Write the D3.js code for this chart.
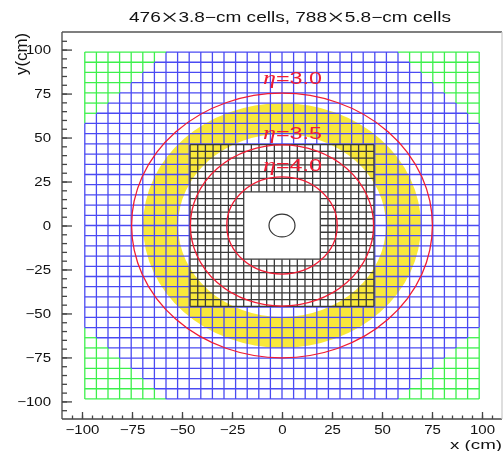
<!DOCTYPE html>
<html>
<head>
<meta charset="utf-8">
<script src="https://cdn.jsdelivr.net/npm/d3@7"></script>
<style>
html, body { margin: 0; padding: 0; background: #fff; }
svg { display: block; filter: blur(0.45px); }
text { font-family: "Liberation Sans", Arial, sans-serif; fill: #111; }
</style>
</head>
<body>
<svg></svg>
<script>
// Fixed inputs
const svgWidth = 503;
const svgHeight = 451;

// Detector layout, all in cm
const etaValues = ["3.0", "3.5", "4.0"];
const etaRadii = [75.2, 45.8, 27.6];
const beamPipeRadius = 6.5;
const yellowBand = [52, 69.5];
const largeCell = 5.8;
const largeCellCount = 17;   // cells from the centre to the outer edge
const largeHoleCount = 8;    // the small cell block replaces this many
const smallCell = 3.83;
const smallCellCount = 12;
const smallHoleCount = 5;
const cornerSteps = 7;       // green staircase size in cells

const majorTicks = [-100, -75, -50, -25, 0, 25, 50, 75, 100];
const minorTicks = d3.range(-105, 106, 5);
const titleParts = ["476", "3.8\u2212cm cells, 788", "5.8\u2212cm cells"];

const x = d3.scaleLinear().domain([-110, 110]).range([62, 502]);
const y = d3.scaleLinear().domain([-110, 110]).range([419, 32]);

const svg = d3.select("svg")
    .attr("width", svgWidth)
    .attr("height", svgHeight);

const blue = "#4a4af2";
const green = "#3cf04c";
const black = "#3a3a3a";
const red = "#f01c34";

// Straight line in data coordinates
function segment(g, x1, y1, x2, y2, color) {
    g.append("line")
        .attr("x1", x(x1)).attr("y1", y(y1))
        .attr("x2", x(x2)).attr("y2", y(y2))
        .attr("stroke", color)
        .attr("stroke-width", 1.3);
}

// Yellow band: unit of the arc is cm, then stretched by the two scales
svg.append("path")
    .attr("transform", `translate(${x(0)},${y(0)}) scale(${x(1) - x(0)},${y(0) - y(1)})`)
    .attr("d", d3.arc()({ innerRadius: yellowBand[0], outerRadius: yellowBand[1], startAngle: 0, endAngle: 2 * Math.PI }))
    .attr("fill", "#f9e83a");

const gridLayer = svg.append("g");

// Large cells: blue, with green staircases in the four corners
const edge = largeCell * largeCellCount;
const hole = largeCell * largeHoleCount;
for (let k = -largeCellCount; k <= largeCellCount; k++) {
    const pos = k * largeCell;
    const fromEdge = largeCellCount - Math.abs(k);    // column index counted from the nearest side
    const greenLen = Math.max(cornerSteps - fromEdge, 0) * largeCell;
    const start = edge - greenLen;
    // split by the centre block
    const inner = Math.abs(k) < largeHoleCount ? hole : 0;
    [-1, 1].forEach(sign => {
        const outer = sign * edge;
        const mid = sign * start;
        const end = sign * inner;
        if (greenLen > 0) {
            segment(gridLayer, pos, outer, pos, mid, green);
            segment(gridLayer, outer, pos, mid, pos, green);
        }
        if (Math.abs(start) > inner) {
            segment(gridLayer, pos, mid, pos, end, blue);
            segment(gridLayer, mid, pos, end, pos, blue);
        }
    });
}

// Small cells: black, around the central hole
const blockEdge = smallCell * smallCellCount;
const blockHole = smallCell * smallHoleCount;
for (let k = -smallCellCount; k <= smallCellCount; k++) {
    const pos = k * smallCell;
    const inner = Math.abs(k) < smallHoleCount ? blockHole : 0;
    [-1, 1].forEach(sign => {
        segment(gridLayer, pos, sign * blockEdge, pos, sign * inner, black);
        segment(gridLayer, sign * blockEdge, pos, sign * inner, pos, black);
    });
}

// Eta circles
svg.selectAll(".eta")
    .data(etaRadii)
    .join("ellipse")
    .attr("class", "eta")
    .attr("cx", x(0)).attr("cy", y(0))
    .attr("rx", d => x(d) - x(0))
    .attr("ry", d => y(0) - y(d))
    .attr("fill", "none")
    .attr("stroke", red)
    .attr("stroke-width", 1.3);

// Beam pipe
svg.append("ellipse")
    .attr("cx", x(0)).attr("cy", y(0))
    .attr("rx", x(beamPipeRadius) - x(0))
    .attr("ry", y(0) - y(beamPipeRadius))
    .attr("fill", "none")
    .attr("stroke", "#333")
    .attr("stroke-width", 1.2);

// Eta labels
const labelOffsets = [-9, -6, -6];
etaValues.forEach((eta, i) => {
    const t = svg.append("text")
        .attr("x", x(-9.5))
        .attr("y", y(etaRadii[i]) + labelOffsets[i])
        .attr("font-size", 17)
        .style("fill", red);
    t.append("tspan")
        .attr("font-style", "italic")
        .attr("font-size", 19)
        .style("font-family", "'Liberation Serif'")
        .text("\u03b7");
    t.append("tspan").text("=" + eta);
    t.attr("textLength", 59).attr("lengthAdjust", "spacingAndGlyphs");
});

// Axes
const stretch = 1.2;
function styleAxis(g) {
    g.select(".domain").remove();
    g.selectAll("line").attr("stroke", "#444").attr("stroke-width", 1.3);
}
function widenLabels(g) {
    g.selectAll("text")
        .attr("font-size", 12.5)
        .style("font-family", "'Liberation Sans'")
        .style("fill", "#111")
        .each(function () {
            d3.select(this)
                .attr("textLength", this.getComputedTextLength() * stretch)
                .attr("lengthAdjust", "spacingAndGlyphs");
        });
}

svg.append("g")
    .attr("transform", `translate(0,${y(-110)})`)
    .call(d3.axisBottom(x).tickValues(minorTicks).tickSize(-3.5).tickFormat(""))
    .call(styleAxis);
svg.append("g")
    .attr("transform", `translate(0,${y(-110)})`)
    .call(d3.axisBottom(x).tickValues(majorTicks).tickSize(-7).tickPadding(8))
    .call(styleAxis)
    .call(widenLabels)
    .call(g => g.selectAll("text").attr("dy", "0.78em").attr("y", 5));
svg.append("g")
    .attr("transform", `translate(${x(-110)},0)`)
    .call(d3.axisLeft(y).tickValues(minorTicks).tickSize(-5).tickFormat(""))
    .call(styleAxis);
svg.append("g")
    .attr("transform", `translate(${x(-110)},0)`)
    .call(d3.axisLeft(y).tickValues(majorTicks).tickSize(-10).tickPadding(11))
    .call(styleAxis)
    .call(widenLabels);

// Frame: the right side is much fainter than the others
segment(svg, -110, 110, -110, -110, "#444");
segment(svg, -110, 110, 110, 110, "#555");
segment(svg, -110, -110, 110, -110, "#444");
segment(svg, 110, 110, 110, -110, "#ccc");

// Title with the big thin multiplication signs
const title = svg.append("text")
    .attr("x", 129).attr("y", 22)
    .attr("font-size", 14)
    .attr("textLength", 322)
    .attr("lengthAdjust", "spacingAndGlyphs");
titleParts.forEach((part, i) => {
    if (i > 0) title.append("tspan").style("font-family", "'Liberation Serif'").attr("font-size", 23).attr("dy", 2.5).text("\u00d7");
    title.append("tspan").attr("dy", i > 0 ? -2.5 : 0).text(part);
});

// Axis titles
svg.append("text")
    .attr("transform", "translate(27,75) rotate(-90)")
    .attr("font-size", 16)
    .attr("textLength", 42)
    .attr("lengthAdjust", "spacingAndGlyphs")
    .text("y(cm)");
svg.append("text")
    .attr("x", 450).attr("y", 449)
    .attr("font-size", 13)
    .attr("textLength", 52)
    .attr("lengthAdjust", "spacingAndGlyphs")
    .text("x (cm)");
</script>
</body>
</html>
